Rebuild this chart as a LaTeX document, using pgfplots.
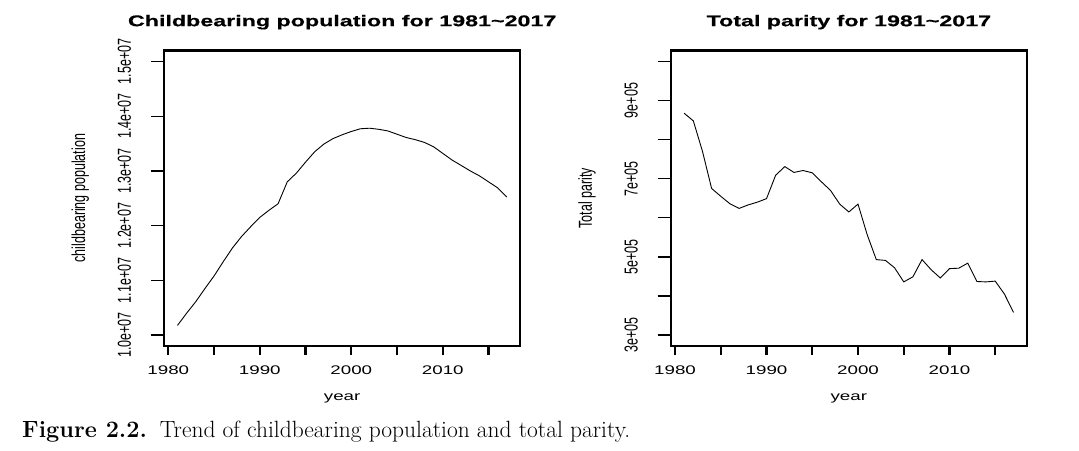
\documentclass[border=0pt]{standalone}
\usepackage{fontspec}
\usepackage{pgfplots}
\pgfplotsset{compat=1.18}
\newfontfamily\rh[FakeStretch=1.5]{Liberation Sans}
\newfontfamily\rtb[FakeStretch=1.5, BoldFeatures={FakeBold=0.5}]{Liberation Sans}
\newfontfamily\rv[FakeStretch=0.6667]{Liberation Sans}
\newcommand\tickfont{\fontsize{12.5}{14}\rh}
\newcommand\titlefont{\fontsize{15.5}{17}\rtb\bfseries}
\newcommand\rotfont{\fontsize{18.75}{20}\rv}

\pgfplotsset{
  rstyle/.style={
    scale only axis, width=355.7pt, height=295.5pt,
    xmin=1979.56, xmax=2018.44,
    scaled y ticks=false,
    axis line style={line width=2.2pt, line cap=rect},
    tick align=outside, tick pos=left,
    xtick={1980,1985,...,2015},
    xticklabels={1980,,1990,,2000,,2010,},
    xtick style={line width=2.2pt, black, /pgfplots/major tick length=9pt},
    ytick style={line width=1.3pt, black, /pgfplots/major tick length=13.5pt},
    xticklabel style={font=\tickfont, anchor=base, yshift=-23.8pt},
    yticklabel style={xshift=-35.5pt, rotate=90, anchor=center, font=\rotfont},
    xlabel={year},
    xlabel style={at={(axis description cs:0.5,-0.1834)}, anchor=base, font=\tickfont},
    ylabel style={at={(axis description cs:-0.236,0.5)}, anchor=center, font=\rotfont},
    title style={at={(axis description cs:0.5,1.062)}, anchor=base, font=\titlefont},
  }
}

\pgfplotstableread{
year value
1981 10176000
1982 10400000
1983 10610000
1984 10850000
1985 11080000
1986 11340000
1987 11590000
1988 11800000
1989 11980000
1990 12150000
1991 12280000
1992 12400000
1993 12800000
1994 12960000
1995 13160000
1996 13350000
1997 13490000
1998 13590000
1999 13660000
2000 13720000
2001 13770000
2002 13780000
2003 13760000
2004 13730000
2005 13670000
2006 13610000
2007 13570000
2008 13520000
2009 13440000
2010 13320000
2011 13200000
2012 13100000
2013 13000000
2014 12910000
2015 12800000
2016 12690000
2017 12520000
}\popdata

\pgfplotstableread{
year value
1981 867500
1982 848000
1983 770000
1984 675000
1985 655000
1986 636000
1987 624000
1988 633000
1989 640000
1990 649000
1991 709000
1992 731000
1993 716000
1994 721000
1995 715000
1996 692000
1997 670000
1998 635000
1999 615000
2000 635000
2001 557000
2002 493000
2003 491000
2004 472000
2005 436000
2006 449000
2007 493000
2008 467000
2009 446000
2010 470000
2011 471000
2012 484000
2013 437000
2014 436000
2015 438000
2016 405000
2017 358000
}\paritydata

\begin{document}
\begin{tikzpicture}
\useasboundingbox (0,0) rectangle (1079pt,450pt);
\begin{axis}[rstyle,
  at={(164.3pt,104pt)}, anchor=south west,
  ymin=9800000, ymax=15200000,
  ytick={10000000,11000000,12000000,13000000,14000000,15000000},
  yticklabels={1.0e+07,1.1e+07,1.2e+07,1.3e+07,1.4e+07,1.5e+07},
  ylabel={childbearing population},
  title={Childbearing population for 1981\textasciitilde 2017},
]
\addplot[black, no marks, line width=0.9pt] table[x=year, y=value] {\popdata};
\end{axis}
\begin{axis}[rstyle,
  at={(671pt,104pt)}, anchor=south west,
  ymin=272000, ymax=1028000,
  ytick={300000,400000,500000,600000,700000,800000,900000,1000000},
  yticklabels={3e+05,,5e+05,,7e+05,,9e+05,},
  ylabel={Total parity},
  title={Total parity for 1981\textasciitilde 2017},
]
\addplot[black, no marks, line width=0.9pt] table[x=year, y=value] {\paritydata};
\end{axis}
\node[anchor=base west, inner sep=0pt] at (22pt,13pt)
  {\fontsize{23.5}{26}\selectfont\textbf{Figure 2.2.}\hspace{0.55em}Trend of childbearing population and total parity.};
\end{tikzpicture}
\end{document}
